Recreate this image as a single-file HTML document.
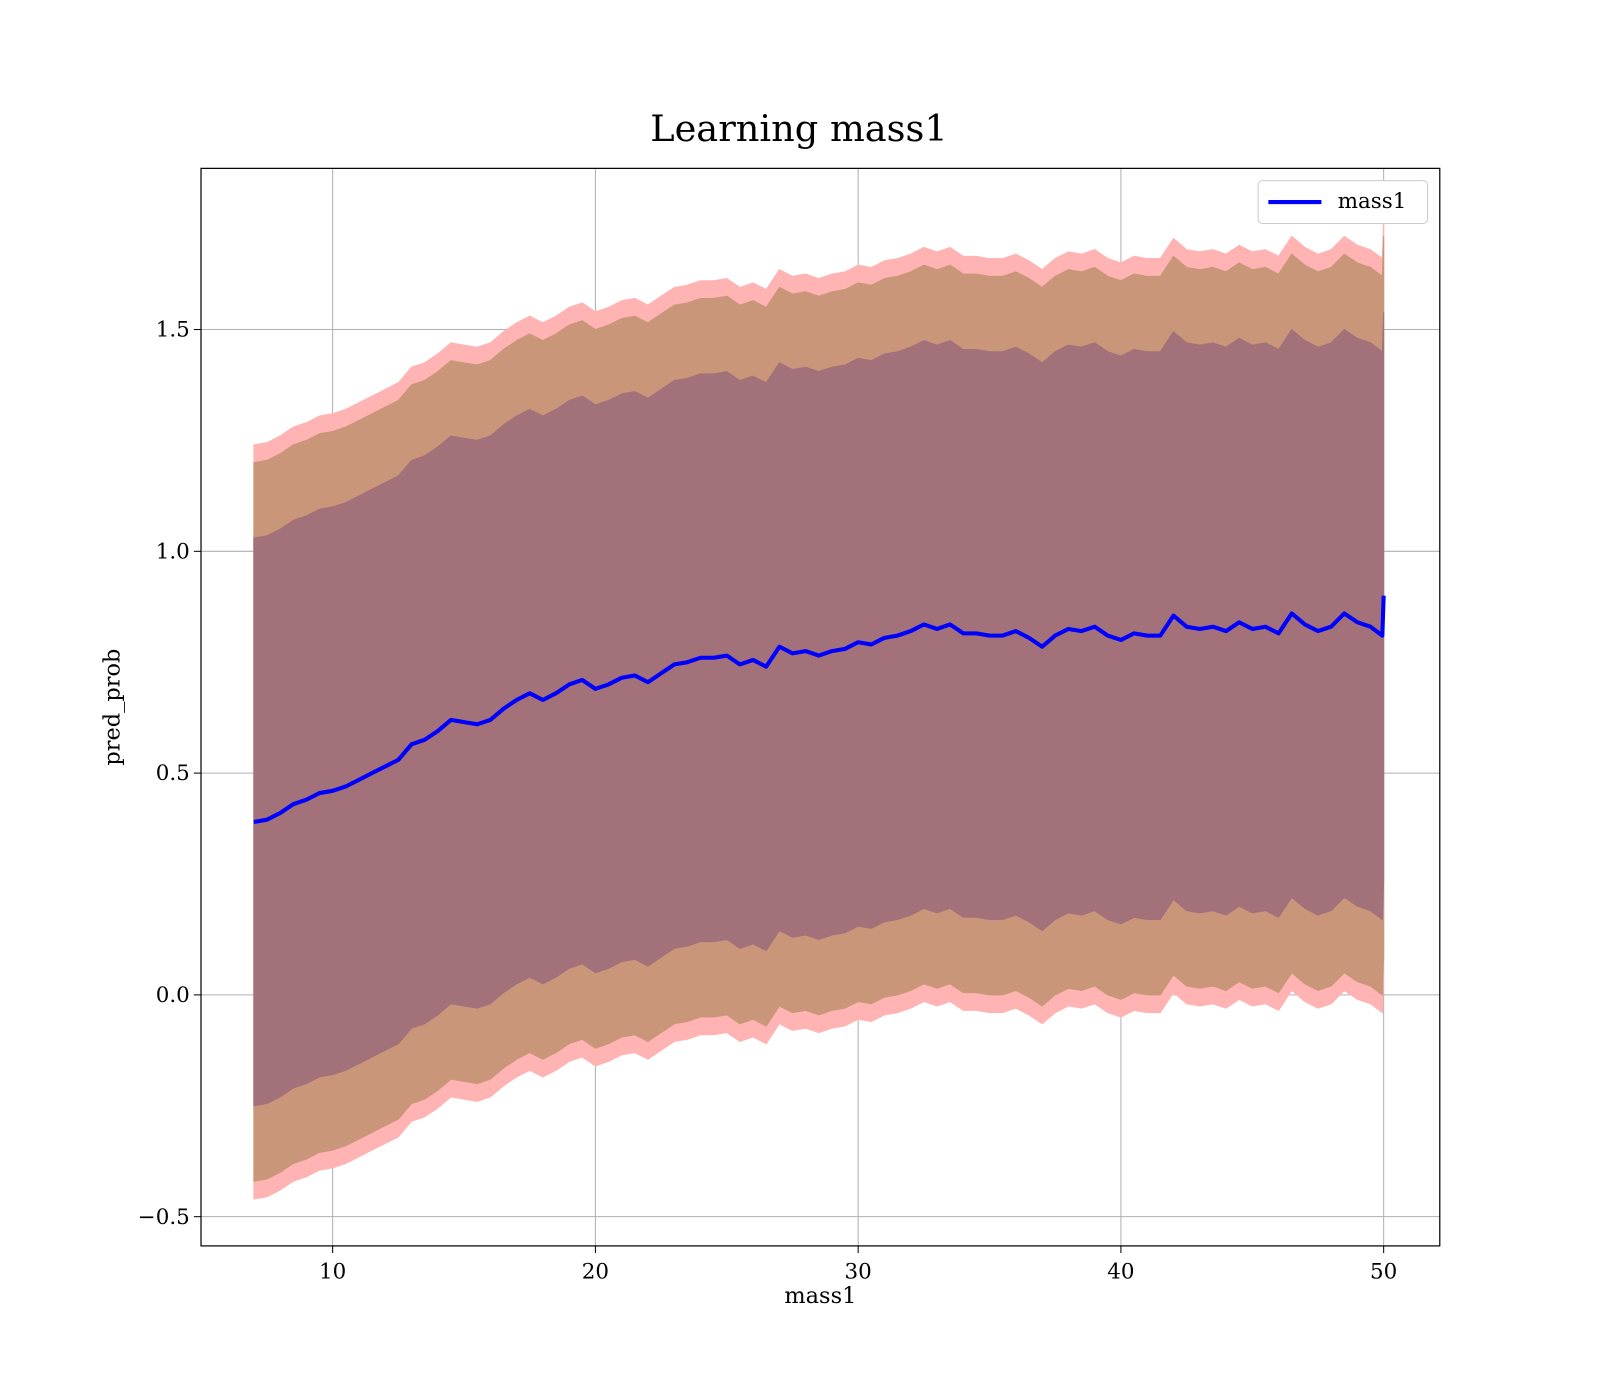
<!DOCTYPE html>
<html><head><meta charset="utf-8"><style>body{margin:0;background:#fff}svg{display:block;font-family:"DejaVu Serif","Liberation Serif",serif}</style></head>
<body>
<svg id="chart" width="1600" height="1400" xmlns="http://www.w3.org/2000/svg">
<rect width="1600" height="1400" fill="#fff"/>
<g transform="scale(1.0204)">
<text x="783" y="138" font-size="36" text-anchor="middle">Learning mass1</text>
<g id="grid"></g><g id="bands"></g><g id="line"></g><g id="ticks"></g>
<rect x="197" y="165" width="1214" height="1056" fill="none" stroke="#000" stroke-width="1.2"/>
<text x="804" y="1277" font-size="22" text-anchor="middle">mass1</text>
<text transform="translate(117,693) rotate(-90)" font-size="22" text-anchor="middle">pred_prob</text>
<g>
<rect x="1233" y="177" width="166" height="42" rx="4" fill="#fff" stroke="#ccc"/>
<line x1="1243" y1="198" x2="1295" y2="198" stroke="#0000ff" stroke-width="4"/>
<text x="1311" y="204" font-size="21">mass1</text>
</g>
</g>
</svg>
<script>
const xs=[7,7.5,8,8.5,9,9.5,10,10.5,11,11.5,12,12.5,13,13.5,14,14.5,15,15.5,16,16.5,17,17.5,18,18.5,19,19.5,20,20.5,21,21.5,22,22.5,23,23.5,24,24.5,25,25.5,26,26.5,27,27.5,28,28.5,29,29.5,30,30.5,31,31.5,32,32.5,33,33.5,34,34.5,35,35.5,36,36.5,37,37.5,38,38.5,39,39.5,40,40.5,41,41.5,42,42.5,43,43.5,44,44.5,45,45.5,46,46.5,47,47.5,48,48.5,49,49.5,49.95,50];
const means=[0.39,0.395,0.41,0.43,0.44,0.455,0.46,0.47,0.485,0.5,0.515,0.53,0.565,0.575,0.595,0.62,0.615,0.61,0.62,0.645,0.665,0.68,0.665,0.68,0.7,0.71,0.69,0.7,0.715,0.72,0.705,0.725,0.745,0.75,0.76,0.76,0.765,0.745,0.755,0.74,0.785,0.77,0.775,0.765,0.775,0.78,0.795,0.79,0.805,0.81,0.82,0.835,0.825,0.835,0.815,0.815,0.81,0.81,0.82,0.805,0.785,0.81,0.825,0.82,0.83,0.81,0.8,0.815,0.81,0.81,0.855,0.83,0.825,0.83,0.82,0.84,0.825,0.83,0.815,0.86,0.835,0.82,0.83,0.86,0.84,0.83,0.81,0.9];
const bandWidths=[0.85,0.81,0.64];
const bandColors=["#ffb3b3","#c9967a","#a2717a"];
const xTicks=[10,20,30,40,50];
const yTicks=[-0.5,0,0.5,1.0,1.5];
const yTickLabels=["\u22120.5","0.0","0.5","1.0","1.5"];
const X=v=>326+(v-10)*25.75, Y=v=>975-v*434.7;
const NS="http://www.w3.org/2000/svg";
function mk(t,a,p){const e=document.createElementNS(NS,t);for(const k in a)e.setAttribute(k,a[k]);p.appendChild(e);return e;}
const grid=document.getElementById('grid'),ticks=document.getElementById('ticks');
xTicks.forEach(v=>{const x=X(v);
const g=mk('line',{x1:x,x2:x,y1:165,y2:1221,stroke:'#b0b0b0','stroke-width':1},grid);

mk('line',{x1:x,x2:x,y1:1221,y2:1228,stroke:'#000'},ticks);
const t=mk('text',{x:x,y:1253,'font-size':21,'text-anchor':'middle'},ticks);t.textContent=v;
});
yTicks.forEach((v,i)=>{const y=Y(v);
const g=mk('line',{x1:197,x2:1411,y1:y,y2:y,stroke:'#b0b0b0','stroke-width':1},grid);

mk('line',{x1:190,x2:197,y1:y,y2:y,stroke:'#000'},ticks);
const t=mk('text',{x:186,y:y+7,'font-size':21,'text-anchor':'end'},ticks);t.textContent=yTickLabels[i];
});
const bands=document.getElementById('bands');
bandWidths.forEach((w,i)=>{let d='';
xs.forEach((x,j)=>{d+=(j?'L':'M')+X(x).toFixed(1)+','+Y(means[j]+w).toFixed(1);});
for(let j=xs.length-1;j>=0;j--)d+='L'+X(xs[j]).toFixed(1)+','+Y(means[j]-w).toFixed(1);
const p=mk('path',{d:d+'Z',fill:bandColors[i],stroke:bandColors[i],'stroke-width':1},bands);
});
let d='';xs.forEach((x,j)=>{d+=(j?'L':'M')+X(x).toFixed(1)+','+Y(means[j]).toFixed(1);});
const l=mk('path',{d:d,fill:'none',stroke:'#0000ff','stroke-width':4,'stroke-linejoin':'round'},document.getElementById('line'));

</script>
</body></html>
